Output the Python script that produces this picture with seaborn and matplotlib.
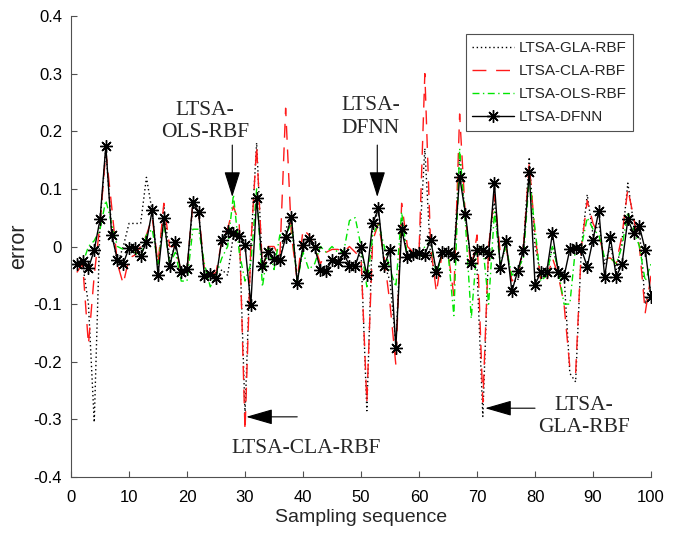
import matplotlib
matplotlib.use("Agg")
import matplotlib.pyplot as plt
import seaborn as sns
from matplotlib.ticker import FuncFormatter

# ---------------- data ----------------
x = list(range(1, 101))

series_names = ["LTSA-GLA-RBF", "LTSA-CLA-RBF", "LTSA-OLS-RBF", "LTSA-DFNN"]

gla = [-0.03, -0.03, -0.10, -0.305, 0.04, 0.17, 0.03, -0.03, 0.0, 0.04,
       0.04, 0.04, 0.12, 0.06, -0.04, 0.07, -0.02, 0.0, -0.05, -0.04,
       0.07, 0.06, -0.05, -0.05, -0.06, -0.04, -0.05, 0.02, 0.03, -0.29,
       0.0, 0.18, -0.04, 0.0, -0.01, -0.02, 0.03, 0.05, -0.06, 0.0,
       0.01, 0.0, -0.04, -0.04, -0.02, -0.03, -0.01, -0.03, -0.03, -0.01,
       -0.285, 0.04, 0.06, -0.03, -0.06, -0.17, 0.05, -0.02, -0.01, -0.01,
       0.17, -0.02, -0.05, -0.01, -0.01, -0.02, 0.16, 0.05, -0.03, -0.04,
       -0.295, 0.0, 0.08, -0.03, 0.0, -0.06, -0.06, 0.0, 0.155, 0.0,
       -0.05, -0.05, 0.0, -0.04, -0.05, -0.22, -0.235, 0.0, 0.09, 0.02,
       0.04, -0.03, 0.0, -0.04, 0.01, 0.11, 0.04, 0.03, -0.10, -0.07]

cla = [-0.045, -0.03, -0.17, -0.05, 0.04, 0.165, 0.07, -0.03, -0.065, -0.02,
       -0.015, 0.0, 0.02, 0.05, -0.03, 0.075, 0.0, 0.0, -0.045, -0.04,
       0.075, 0.06, -0.04, -0.05, -0.045, 0.01, 0.03, 0.07, 0.04, -0.32,
       0.0, 0.175, -0.04, 0.0, 0.0, -0.02, 0.24, 0.02, -0.06, 0.03,
       0.02, 0.0, -0.03, -0.01, -0.005, -0.005, -0.01, 0.0, -0.01, -0.02,
       -0.27, 0.01, 0.04, -0.02, -0.10, -0.205, 0.075, 0.0, -0.01, -0.01,
       0.30, 0.0, -0.08, -0.01, -0.01, -0.085, 0.23, 0.05, -0.04, 0.02,
       -0.27, 0.0, 0.09, -0.01, 0.0, -0.06, -0.05, 0.0, 0.145, 0.02,
       -0.06, -0.06, -0.02, -0.05, -0.10, -0.21, -0.22, 0.0, 0.08, 0.04,
       0.02, -0.02, -0.02, -0.03, 0.02, 0.10, 0.05, 0.0, -0.115, -0.05]

ols = [-0.035, -0.03, 0.0, 0.01, 0.03, 0.08, 0.04, 0.0, -0.005, -0.01,
       -0.01, -0.02, 0.02, 0.03, -0.03, 0.04, -0.03, -0.01, -0.06, -0.06,
       0.03, 0.03, -0.03, -0.07, -0.05, -0.02, 0.0, 0.09, -0.01, -0.06,
       -0.03, 0.10, -0.07, 0.0, -0.04, 0.02, 0.02, 0.04, -0.06, -0.01,
       -0.04, -0.03, 0.0, -0.01, 0.0, -0.01, -0.01, 0.045, 0.05, 0.0,
       -0.07, 0.02, 0.04, 0.0, -0.04, -0.07, 0.06, -0.02, -0.01, -0.02,
       0.0, 0.01, -0.05, -0.01, -0.01, -0.12, 0.17, 0.04, -0.125, 0.0,
       0.0, -0.10, 0.06, -0.03, 0.0, -0.05, -0.04, -0.02, 0.12, 0.03,
       -0.06, -0.05, 0.0, -0.04, -0.10, -0.10, 0.0, 0.0, 0.05, 0.03,
       0.02, -0.02, -0.02, -0.03, 0.0, 0.06, 0.03, 0.0, -0.06, -0.03]

dfnn = [-0.031, -0.025, -0.038, -0.006, 0.047, 0.175, 0.02, -0.023, -0.03, -0.002,
        -0.002, -0.017, 0.008, 0.063, -0.05, 0.05, -0.034, 0.007, -0.045, -0.039,
        0.077, 0.06, -0.052, -0.048, -0.055, 0.012, 0.027, 0.023, 0.019, 0.002,
        -0.101, 0.084, -0.033, -0.01, -0.021, -0.023, 0.016, 0.051, -0.063, 0.002,
        0.013, -0.001, -0.04, -0.043, -0.023, -0.027, -0.012, -0.033, -0.034, -0.001,
        -0.05, 0.04, 0.066, -0.033, -0.006, -0.176, 0.031, -0.019, -0.013, -0.012,
        -0.014, 0.012, -0.045, -0.01, -0.01, -0.017, 0.121, 0.057, -0.029, -0.006,
        -0.006, -0.013, 0.11, -0.037, 0.01, -0.078, -0.043, -0.006, 0.13, -0.066,
        -0.045, -0.045, 0.023, -0.044, -0.052, -0.005, -0.003, -0.005, -0.035, 0.012,
        0.062, -0.053, 0.016, -0.053, -0.03, 0.047, 0.023, 0.035, -0.006, -0.087]

xticks = [0, 10, 20, 30, 40, 50, 60, 70, 80, 90, 100]
yticks = [-0.4, -0.3, -0.2, -0.1, 0.0, 0.1, 0.2, 0.3, 0.4]

# ---------------- style ----------------
sns.set_style("ticks")
plt.rcParams["font.family"] = ["Liberation Sans", "DejaVu Sans"]
plt.rcParams["axes.unicode_minus"] = False
plt.rcParams["xtick.direction"] = "in"
plt.rcParams["ytick.direction"] = "in"

spine_col = "#505050"
sans = ["Liberation Sans", "DejaVu Sans"]

fig = plt.figure(figsize=(6.83, 5.35), dpi=100)
ax = fig.add_axes([0.1040, 0.1084, 0.8492, 0.8617])

sns.lineplot(x=x, y=gla, ax=ax, color="black", lw=1.0,
             linestyle=(0, (1, 2)), errorbar=None, label=series_names[0])
sns.lineplot(x=x, y=cla, ax=ax, color="#ff1a1a", lw=1.0,
             linestyle=(0, (10, 7)), errorbar=None, label=series_names[1])
sns.lineplot(x=x, y=ols, ax=ax, color="#00e600", lw=1.0,
             linestyle=(0, (5, 2.5, 1, 2.5)), errorbar=None, label=series_names[2])
sns.lineplot(x=x, y=dfnn, ax=ax, color="black", lw=1.0, linestyle="-",
             marker=(8, 2, 0), markersize=9, markeredgewidth=1.0,
             markeredgecolor="black", errorbar=None, label=series_names[3])

ax.set_xlim(0, 100)
ax.set_ylim(-0.4, 0.4)
ax.set_xticks(xticks)
ax.set_yticks(yticks)
ax.yaxis.set_major_formatter(FuncFormatter(lambda v, p: "%g" % round(v, 2)))
ax.tick_params(axis="both", labelsize=12, length=4.3, width=0.8,
               color=spine_col, labelcolor="black")
ax.tick_params(axis="y", pad=6.5)
ax.tick_params(axis="x", pad=9)

for s in ["top", "right"]:
    ax.spines[s].set_visible(False)
for s in ["left", "bottom"]:
    ax.spines[s].set_color(spine_col)
    ax.spines[s].set_linewidth(0.8)

ax.set_xlabel("Sampling sequence", fontsize=14, labelpad=3.5, family=sans)
ax.set_ylabel("error", fontsize=15.5, family=sans)
ax.yaxis.set_label_coords(-0.073, 0.5)

leg = ax.legend(loc="upper right", bbox_to_anchor=(0.969, 0.961),
                borderaxespad=0, fontsize=11, frameon=True, fancybox=False,
                framealpha=1, edgecolor=spine_col, handlelength=2.7,
                handletextpad=0.3, labelspacing=0.6, borderpad=0.45)
leg.get_frame().set_linewidth(0.8)

# ---------------- annotations ----------------
serif = ["Liberation Serif", "DejaVu Serif"]
afs = 15.5
v_arrow = dict(arrowstyle="-|>,head_length=1.6,head_width=0.5",
               color="black", lw=0.8, mutation_scale=10,
               shrinkA=0, shrinkB=0)
h_arrow = dict(arrowstyle="-|>,head_length=1.66,head_width=0.48",
               color="black", lw=0.8, mutation_scale=10,
               shrinkA=0, shrinkB=0)

ax.annotate("", xy=(27.8, 0.086), xytext=(27.8, 0.176), arrowprops=v_arrow)
ax.text(23.1, 0.19, "LTSA-\nOLS-RBF", family=serif, fontsize=afs,
        ha="center", va="baseline", multialignment="center", linespacing=1.25)

ax.annotate("", xy=(52.8, 0.086), xytext=(52.8, 0.176), arrowprops=v_arrow)
ax.text(51.6, 0.197, "LTSA-\nDFNN", family=serif, fontsize=afs,
        ha="center", va="baseline", multialignment="center", linespacing=1.25)

ax.annotate("", xy=(30.2, -0.2956), xytext=(39.0, -0.2956), arrowprops=h_arrow)
ax.text(40.5, -0.359, "LTSA-CLA-RBF", family=serif, fontsize=afs,
        ha="center", va="baseline")

ax.annotate("", xy=(71.4, -0.2806), xytext=(80.0, -0.2806), arrowprops=h_arrow)
ax.text(88.4, -0.322, "LTSA-\nGLA-RBF", family=serif, fontsize=afs,
        ha="center", va="baseline", multialignment="center", linespacing=1.25)

fig.savefig("out.png", dpi=100)
